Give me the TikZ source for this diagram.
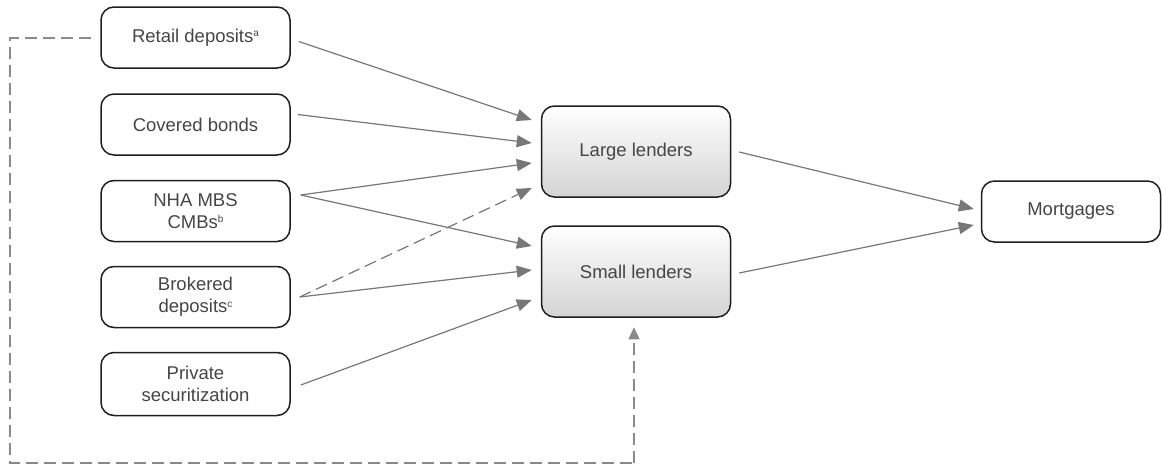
\documentclass[tikz,border=0pt]{standalone}
\usepackage{fontspec}
\setmainfont{Liberation Sans}
\usetikzlibrary{arrows.meta,calc}
\definecolor{txt}{HTML}{454545}
\definecolor{arr}{HTML}{777777}
\definecolor{dsh}{HTML}{8A8A8A}
\definecolor{bord}{HTML}{1E1E1E}
\newcommand{\supmark}[1]{\raisebox{5.5pt}{\fontsize{10}{10}\selectfont #1}}
\begin{document}
\begin{tikzpicture}[x=1pt,y=-1pt,
  src/.style={draw=bord,line width=1.5pt,rounded corners=13pt,minimum width=189pt,minimum height=61pt,inner sep=0pt,align=center,text=txt,font=\fontsize{18.5}{22}\selectfont},
  lend/.style={src,minimum height=91pt,top color=white,bottom color=black!17},
  conn/.style={draw=arr,line width=1.2pt,-{Triangle[length=15pt,width=12pt]},color=arr},
  fb/.style={draw=dsh,line width=1.2pt,dash pattern=on 12pt off 6pt}
]
\useasboundingbox (0,0) rectangle (1162,466);
\node[src] (ret) at (195.5,37.5) {Retail deposits\supmark{a}};
\node[src] (cov) at (195.5,124.5) {Covered bonds};
\node[src] (nha) at (195.5,211) {NHA MBS\\CMBs\supmark{b}};
\node[src] (bro) at (195.5,297) {Brokered\\deposits\supmark{c}};
\node[src,minimum height=63pt] (pri) at (195.5,384) {Private\\securitization};
\node[lend] (large) at (636,151.5) {Large lenders};
\node[lend] (small) at (636,271.5) {Small lenders};
\node[src,minimum width=179pt] (mort) at (1071,211.5) {Mortgages};

\coordinate (fbA) at (10,38);
\coordinate (fbB) at (10,463);
\coordinate (fbC) at (634,463);

\draw[conn] ($(ret.east)+(8,4)$) -- ($(large.west)+(-9,-31.5)$);
\draw[conn] ($(cov.east)+(7,-10)$) -- ($(large.west)+(-9,-8.5)$);
\draw[conn] ($(nha.east)+(10,-16)$) -- ($(large.west)+(-9,11.5)$);
\draw[conn] ($(nha.east)+(10,-16)$) -- ($(small.west)+(-9,-25.5)$);
\draw[conn,dash pattern=on 12pt off 6pt] ($(bro.east)+(9,0)$) -- ($(large.west)+(-9,36.5)$);
\draw[conn] ($(bro.east)+(9,0)$) -- ($(small.west)+(-9,-1.5)$);
\draw[conn] ($(pri.east)+(10,1)$) -- ($(small.west)+(-9,28.5)$);
\draw[conn] ($(large.east)+(8,0.5)$) -- ($(mort.west)+(-7,-2.5)$);
\draw[conn] ($(small.east)+(8,1.5)$) -- ($(mort.west)+(-7,13.5)$);

\draw[fb] ($(ret.west)+(-9,0.5)$) -- (fbA) -- (fbB) -- (fbC);
\draw[fb,-{Triangle[length=12pt,width=11pt]},color=dsh] (fbC) -- ($(small.south)+(-2,9.5)$);
\end{tikzpicture}
\end{document}
